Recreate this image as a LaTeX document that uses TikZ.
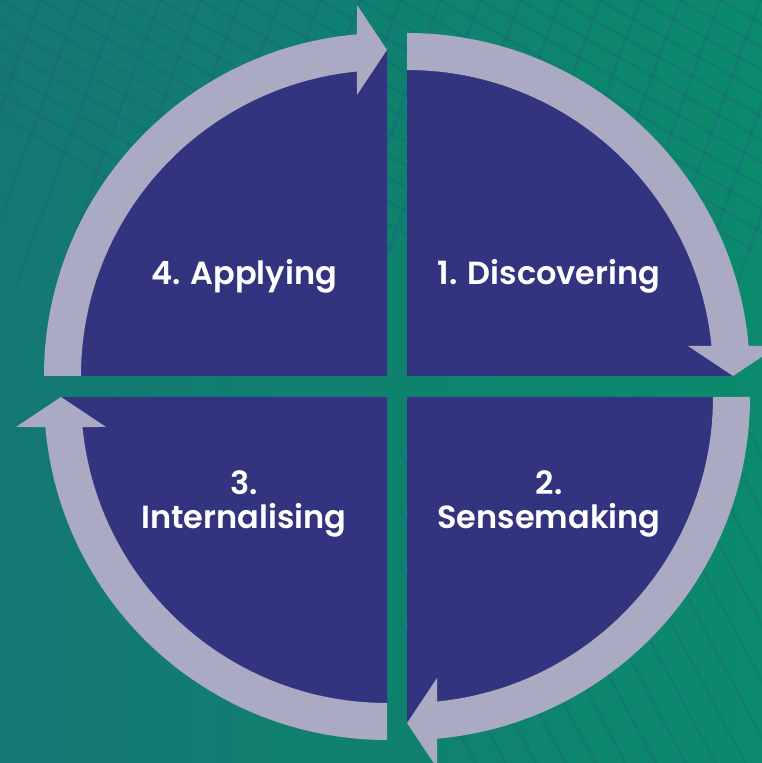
\documentclass[tikz,border=0pt]{standalone}
\usepackage{fontspec}
\setmainfont{Poppins}[BoldFont={Poppins SemiBold}]
\usetikzlibrary{positioning}
\definecolor{bgleft}{RGB}{20,120,114}
\definecolor{bgright}{RGB}{11,138,109}
\definecolor{gridteal}{RGB}{30,95,120}
\definecolor{quadblue}{RGB}{51,52,128}
\definecolor{arrowgray}{RGB}{170,170,194}

\tikzset{
  quad/.style={fill=quadblue},
  band/.style={fill=arrowgray},
  gridline/.style={draw=gridteal,line width=3pt,opacity=0.28},
  stage/.style={text=white,font=\bfseries\fontsize{32}{34}\selectfont,align=center,inner sep=0pt}
}

\begin{document}
\begin{tikzpicture}[x=1pt,y=1pt]

% background
\shade[left color=bgleft,right color=bgright] (0,0) rectangle (762,763);
\useasboundingbox (0,0) rectangle (762,763);

\begin{scope}
\clip (0,480) rectangle (762,763);
\foreach \i in {0,...,24}
  \draw[gridline] (-200+\i*40,763) -- ++(-30:500);
\foreach \i in {0,...,24}
  \draw[gridline] (\i*40,763) -- ++(-110:320);
\end{scope}
\begin{scope}
\clip (400,0) rectangle (762,330);
\foreach \i in {0,...,20}
  \draw[gridline] (300+\i*30,330) -- ++(-62:420);
\end{scope}

% quadrants with their arrows
\foreach \cx/\cy/\rot in {407/387/0, 407/366/-90, 387/366/180, 387/387/90}
{
\begin{scope}[shift={(\cx,\cy)},rotate=\rot]
  \fill[quad] (0,0) -- (0,325) arc[start angle=90,end angle=0,radius=325] -- cycle;
  \fill[band] (0,343) arc[start angle=90,end angle=5.02,radius=343]
    -- (371,30) -- (326,0) -- (281,30)
    -- (5.63:306) arc[start angle=5.63,end angle=90,radius=306] -- cycle;
\end{scope}
}

% stage labels
\node[stage,anchor=base] (apply) at (244,478) {4. Applying};
\node[stage,anchor=base] (discover) at (549,478) {1. Discovering};
\node[stage] (internal) at (244,259) {3.\\Internalising};
\node[stage] (sense) at (549,259) {2.\\Sensemaking};

\end{tikzpicture}
\end{document}
